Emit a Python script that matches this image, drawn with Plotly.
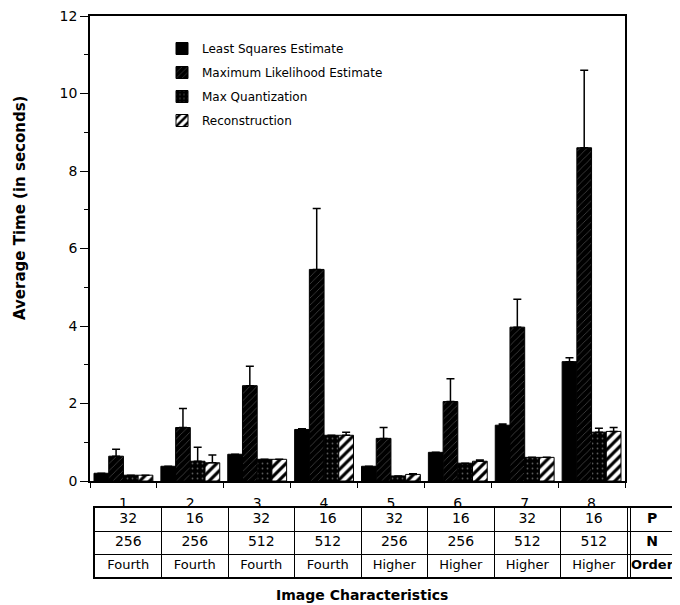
import plotly.graph_objects as go

# ---------------- data ----------------
groups = ["1", "2", "3", "4", "5", "6", "7", "8"]

series_names = ["Least Squares Estimate", "Maximum Likelihood Estimate",
                "Max Quantization", "Reconstruction"]

ls_vals = [0.20, 0.38, 0.69, 1.33, 0.38, 0.74, 1.44, 3.08]
mle_vals = [0.64, 1.38, 2.46, 5.46, 1.10, 2.05, 3.97, 8.60]
mq_vals = [0.15, 0.51, 0.56, 1.18, 0.13, 0.46, 0.61, 1.26]
rec_vals = [0.15, 0.47, 0.56, 1.18, 0.17, 0.51, 0.61, 1.28]

# upper error bar lengths (None = no error bar drawn)
ls_err = [None, None, None, 0.02, None, None, 0.03, 0.10]
mle_err = [0.18, 0.49, 0.50, 1.57, 0.28, 0.59, 0.72, 2.00]
mq_err = [None, 0.36, None, None, None, None, None, 0.10]
rec_err = [None, 0.20, None, 0.08, 0.02, 0.03, None, 0.10]

row_labels = ["P", "N", "Order"]
p_row = ["32", "16", "32", "16", "32", "16", "32", "16"]
n_row = ["256", "256", "512", "512", "256", "256", "512", "512"]
order_row = ["Fourth", "Fourth", "Fourth", "Fourth",
             "Higher", "Higher", "Higher", "Higher"]

y_ticks = [0, 2, 4, 6, 8, 10, 12]

# ---------------- layout helpers ----------------
FONT = "DejaVu Sans"
OFF = 8                      # page body margin offset
W, H = 680 - OFF, 605 - OFF
ML, MR, MT, MB = 90 - OFF, 3, 16 - OFF, 20
PW, PH = W - ML - MR, H - MT - MB


def px_x(p):                 # reference pixel -> paper x
    return (p - OFF - ML) / PW


def px_y(p):                 # reference pixel -> paper y
    return (H - MB - (p - OFF)) / PH


values = [ls_vals, mle_vals, mq_vals, rec_vals]
errors = [ls_err, mle_err, mq_err, rec_err]
patterns = [
    dict(shape=""),
    dict(shape="/", fillmode="replace", bgcolor="black", fgcolor="#5a5a5a",
         size=5, solidity=0.12),
    dict(shape=".", fillmode="replace", bgcolor="black", fgcolor="#5a5a5a",
         size=5, solidity=0.1),
    dict(shape="/", fillmode="replace", bgcolor="white", fgcolor="black",
         size=7, solidity=0.45),
]
colors = ["black", "black", "black", "white"]

fig = go.Figure()
for i, name in enumerate(series_names):
    fig.add_trace(go.Bar(
        x=groups, y=values[i], name=name, legendgroup=name,
        marker=dict(color=colors[i], line=dict(color="black", width=1),
                    pattern=patterns[i]),
        error_y=dict(type="data", symmetric=False, array=errors[i],
                     arrayminus=[None] * len(groups), color="black",
                     thickness=1.5, width=4),
        hoverinfo="skip",
    ))

# ---------------- table below the chart (own axes) ----------------
n_groups = len(groups)
label_col_w = 0.75
label_x = n_groups - 0.5 + label_col_w / 2
col_x = list(range(n_groups)) + [label_x]
table_rows = [p_row, n_row, order_row]
for r, row in enumerate(table_rows):
    texts = list(row) + ["<b>%s</b>" % row_labels[r]]
    sizes = [14 if r < 2 else 13] * n_groups + [14 if r < 2 else 13]
    fig.add_trace(go.Scatter(
        x=col_x, y=[r] * len(col_x), mode="text", text=texts,
        textfont=dict(family=FONT, size=sizes, color="black"),
        xaxis="x2", yaxis="y2", showlegend=False, hoverinfo="skip",
    ))

col_bounds = [k - 0.5 for k in range(n_groups + 1)] + \
    [n_groups - 0.5 + 0.045, n_groups - 0.5 + label_col_w]
row_bounds = [-0.5, 0.5, 1.5, 2.5]

fig.update_layout(
    width=W, height=H,
    margin=dict(l=ML, r=MR, t=MT, b=MB, autoexpand=False),
    paper_bgcolor="white", plot_bgcolor="white",
    barmode="group", bargap=0.12, bargroupgap=0.0,
    font=dict(family=FONT, color="black"),
    showlegend=True,
    legend=dict(x=px_x(162), y=px_y(34), xanchor="left", yanchor="top",
                font=dict(family=FONT, size=12, color="black"),
                tracegroupgap=5, bgcolor="rgba(0,0,0,0)"),
    xaxis=dict(domain=[0, px_x(625)], type="category", automargin=False,
               showline=True, linecolor="black", linewidth=1.5, mirror=True,
               ticks="outside", tickson="boundaries", ticklen=5,
               tickcolor="black", showgrid=False,
               tickfont=dict(family=FONT, size=14, color="black"),
               ticklabelstandoff=8),
    yaxis=dict(domain=[px_y(481), 1], range=[0, 12], tickvals=y_ticks,
               automargin=False,
               showline=True, linecolor="black", linewidth=1.5, mirror=True,
               ticks="outside", ticklen=8, tickcolor="black", showgrid=False,
               zeroline=False, ticklabeloverflow="allow",
               tickfont=dict(family=FONT, size=14, color="black"),
               minor=dict(dtick=1, ticks="outside", ticklen=4,
                          tickcolor="black", showgrid=False)),
    xaxis2=dict(domain=[px_x(95), px_x(677)], anchor="y2", automargin=False,
                range=[-0.5, n_groups - 0.5 + label_col_w],
                tickvals=col_bounds, showticklabels=False, ticks="",
                showgrid=True, gridcolor="black", gridwidth=1,
                showline=True, linecolor="black", linewidth=1.5, mirror=True,
                zeroline=False, fixedrange=True),
    yaxis2=dict(domain=[px_y(577), px_y(508)], anchor="x2", automargin=False,
                range=[2.5, -0.5], tickvals=row_bounds,
                showticklabels=False, ticks="",
                showgrid=True, gridcolor="black", gridwidth=1,
                showline=True, linecolor="black", linewidth=1.5, mirror=True,
                zeroline=False, fixedrange=True),
    annotations=[
        dict(text="<b>Average Time (in seconds)</b>", xref="paper",
             yref="paper", x=px_x(20), y=px_y(208), textangle=-90,
             showarrow=False, xanchor="center", yanchor="middle",
             font=dict(family=FONT, size=15, color="black")),
        dict(text="<b>Image Characteristics</b>", xref="paper",
             yref="paper", x=px_x(362), y=px_y(595), showarrow=False,
             xanchor="center", yanchor="middle",
             font=dict(family=FONT, size=14, color="black")),
    ],
)

fig.write_html("out.html")
